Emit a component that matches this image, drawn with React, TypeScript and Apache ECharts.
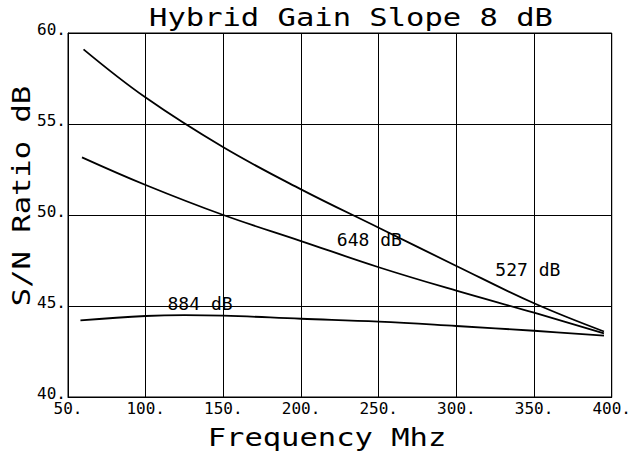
import React, { useEffect, useRef } from "react";
import * as echarts from "echarts";

// 527 dB curve
const freq527 = [60, 100, 150, 200, 250, 300, 350, 395];
const sn527 = [59.1, 56.45, 53.72, 51.41, 49.3, 47.2, 45.15, 43.6];
// 648 dB curve
const freq648 = [59, 100, 150, 200, 250, 300, 350, 395];
const sn648 = [53.17, 51.65, 50.0, 48.57, 47.13, 45.84, 44.63, 43.5];
// 884 dB curve
const freq884 = [58, 100, 125, 150, 200, 250, 300, 350, 395];
const sn884 = [44.21, 44.45, 44.5, 44.47, 44.3, 44.14, 43.9, 43.64, 43.37];

const curveNames = ["527 dB", "648 dB", "884 dB"];
// label anchor positions in data units [freq, S/N]
const labelPos = [
  [346, 46.98],
  [244, 48.63],
  [135, 45.11],
];

const xMin = 50, xMax = 400, xStep = 50;
const yMin = 40, yMax = 60, yStep = 5;

const TITLE = "Hybrid Gain Slope 8 dB";
const X_NAME = "Frequency Mhz";
const Y_NAME = "S/N Ratio dB";

const MONO = '"DejaVu Sans Mono", "Liberation Mono", monospace';

function zip(xs: number[], ys: number[]) {
  return xs.map((x, i) => [x, ys[i]]);
}

export default function App() {
  const ref = useRef<HTMLDivElement>(null);
  useEffect(() => {
    if (!ref.current) return;
    const chart = echarts.init(ref.current, null, { renderer: "svg" });
    const seriesData = [zip(freq527, sn527), zip(freq648, sn648), zip(freq884, sn884)];
    chart.setOption({
      animation: false,
      backgroundColor: "#fff",
      grid: {
        left: 68,
        right: 16,
        top: 33,
        bottom: 59,
        show: true,
        borderColor: "#000",
        borderWidth: 1,
      },
      xAxis: {
        type: "value",
        min: xMin,
        max: xMax,
        interval: xStep,
        axisLine: { show: true, lineStyle: { color: "#000", width: 1 } },
        axisTick: { show: false },
        splitLine: { show: true, lineStyle: { color: "#000", width: 1 } },
        axisLabel: {
          color: "#000",
          fontFamily: MONO,
          fontSize: 16,
          margin: 3,
          formatter: (v: number) => v + ".",
        },
      },
      yAxis: {
        type: "value",
        min: yMin,
        max: yMax,
        interval: yStep,
        axisLine: { show: true, lineStyle: { color: "#000", width: 1 } },
        axisTick: { show: false },
        splitLine: { show: true, lineStyle: { color: "#000", width: 1 } },
        axisLabel: {
          color: "#000",
          fontFamily: MONO,
          fontSize: 16,
          margin: 2,
          verticalAlign: "bottom",
          lineHeight: 8,
          formatter: (v: number) => v + ".",
        },
      },
      graphic: [
        {
          type: "text",
          x: 351,
          y: 17,
          scaleX: 1.22,
          style: {
            text: TITLE,
            fill: "#000",
            fontFamily: MONO,
            fontSize: 25,
            align: "center",
            verticalAlign: "middle",
          },
        },
        {
          type: "text",
          x: 327,
          y: 437,
          scaleX: 1.22,
          style: {
            text: X_NAME,
            fill: "#000",
            fontFamily: MONO,
            fontSize: 25,
            align: "center",
            verticalAlign: "middle",
          },
        },
        {
          type: "text",
          x: 21,
          y: 196,
          rotation: Math.PI / 2,
          scaleX: 1.22,
          style: {
            text: Y_NAME,
            fill: "#000",
            fontFamily: MONO,
            fontSize: 25,
            align: "center",
            verticalAlign: "middle",
          },
        },
      ],
      series: seriesData.map((d, i) => ({
        type: "line",
        name: curveNames[i],
        data: d,
        smooth: 0.4,
        symbol: "none",
        lineStyle: { color: "#000", width: 1.8 },
        markPoint: {
          symbol: "circle",
          symbolSize: 0,
          data: [{ coord: labelPos[i] }],
          label: {
            show: true,
            position: "inside",
            formatter: curveNames[i],
            color: "#000",
            fontFamily: MONO,
            fontSize: 18,
          },
        },
      })),
    });
    return () => chart.dispose();
  }, []);
  return <div ref={ref} style={{ width: 634, height: 456, position: "absolute", left: 0, top: 0 }} />;
}
